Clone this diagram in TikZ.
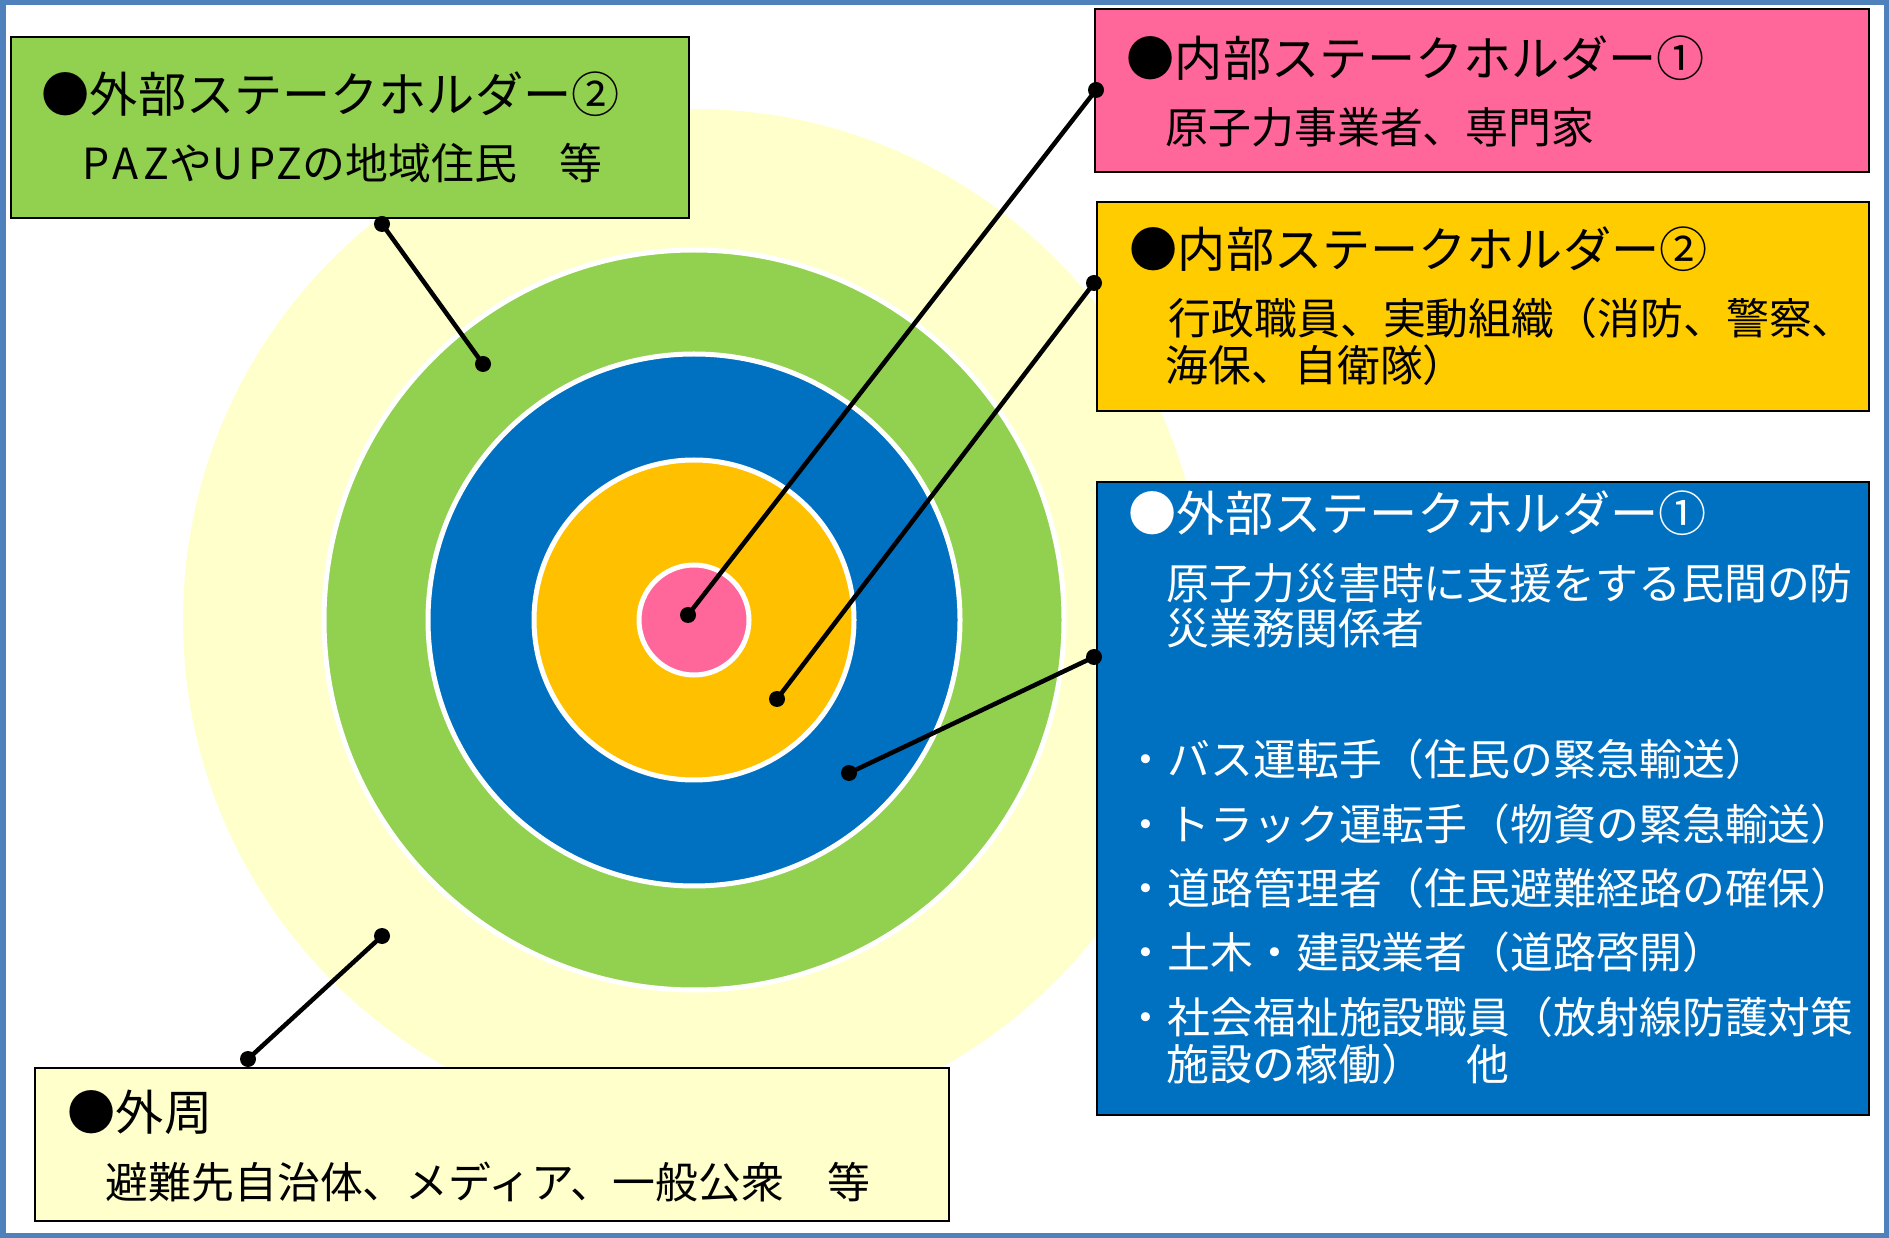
\documentclass[tikz,border=0pt]{standalone}
\usepackage{fontspec}
\setmainfont{Noto Sans CJK JP}

\definecolor{paleyel}{HTML}{FFFFCC}
\definecolor{ringgreen}{HTML}{92D050}
\definecolor{ringblue}{HTML}{0070C0}
\definecolor{ringorange}{HTML}{FFC000}
\definecolor{boxorange}{HTML}{FFCC00}
\definecolor{ringpink}{HTML}{FF6699}
\definecolor{framec}{HTML}{4F81BD}

\tikzset{
  ring/.style={draw=white, line width=0.05cm},
  sbox/.style={draw=black, line width=0.6pt, rectangle, inner sep=0pt, anchor=north west},
  ttl/.style={anchor=west, inner sep=0pt, font=\fontsize{13.7pt}{16pt}\selectfont},
  txt/.style={anchor=west, inner sep=0pt, font=\fontsize{12.2pt}{14pt}\selectfont},
  link/.style={line width=0.045cm},
}

\begin{document}
\begin{tikzpicture}[x=0.1mm, y=-0.1mm]
    \useasboundingbox (0,0) rectangle (1889,1238);

    % Marco exterior
    \draw[framec, line width=0.05cm] (3,3) rectangle (1886,1235);

    % Circulos concentricos
    \coordinate (c) at (694,620);
    \fill[paleyel] (c) circle (5.11cm);
    \filldraw[ring, fill=ringgreen] (c) circle (3.70cm);
    \filldraw[ring, fill=ringblue] (c) circle (2.66cm);
    \filldraw[ring, fill=ringorange] (c) circle (1.60cm);
    \filldraw[ring, fill=ringpink] (c) circle (0.55cm);

    % Cajas
    \node[sbox, fill=ringpink, minimum width=7.74cm, minimum height=1.63cm] (in1) at (1094,8) {};
    \node[sbox, fill=boxorange, minimum width=7.72cm, minimum height=2.09cm] (in2) at (1096,201) {};
    \node[sbox, fill=ringblue, minimum width=7.72cm, minimum height=6.33cm] (ex1) at (1096,481) {};
    \node[sbox, fill=ringgreen, minimum width=6.78cm, minimum height=1.81cm] (ex2) at (10,36) {};
    \node[sbox, fill=paleyel, minimum width=9.14cm, minimum height=1.53cm] (out) at (34,1067) {};

    % Textos
    \node[ttl] (in1t) at (1126,58) {●内部ステークホルダー①};
    \node[txt] (in1b) at (1165,127) {原子力事業者、専門家};

    \node[ttl] (in2t) at (1129,249) {●内部ステークホルダー②};
    \node[txt] (in2b) at (1168,318) {行政職員、実動組織（消防、警察、};
    \node[txt] (in2c) at (1165,365) {海保、自衛隊）};

    \node[ttl, white] (ex1t) at (1128,513) {●外部ステークホルダー①};
    \node[txt, white] (ex1b) at (1166,583) {原子力災害時に支援をする民間の防};
    \node[txt, white] (ex1c) at (1166,628) {災業務関係者};
    \foreach \y/\t in {759/{・バス運転手（住民の緊急輸送）},
                       824/{・トラック運転手（物資の緊急輸送）},
                       888/{・道路管理者（住民避難経路の確保）},
                       952/{・土木・建設業者（道路啓開）},
                       1017/{・社会福祉施設職員（放射線防護対策}}
      \node[txt, white] (ex1i\y) at (1124,\y) {\t};
    \node[txt, white] (ex1d) at (1166,1064) {施設の稼働）　他};

    \node[ttl] (ex2t) at (41,94) {●外部ステークホルダー②};
    \node[txt] (ex2b) at (82,163) {{\addfontfeature{LetterSpace=12}PAZ}や{\addfontfeature{LetterSpace=12}UPZ}の地域住民　等};

    \node[ttl] (outt) at (67,1112) {●外周};
    \node[txt] (outb) at (105,1182) {避難先自治体、メディア、一般公衆　等};

    % Puntos de las lineas
    \coordinate (in1dot) at (688,615);
    \coordinate (in1end) at (1096,90);
    \coordinate (in2dot) at (777,699);
    \coordinate (in2end) at (1094,283);
    \coordinate (ex1dot) at (849,773);
    \coordinate (ex1end) at (1094,657);
    \coordinate (ex2dot) at (483,364);
    \coordinate (ex2end) at (382,224);
    \coordinate (outdot) at (382,936);
    \coordinate (outend) at (248,1059);

    % Lineas
    \draw[link] (in1dot) -- (in1end);
    \draw[link] (in2dot) -- (in2end);
    \draw[link] (ex1dot) -- (ex1end);
    \draw[link] (ex2dot) -- (ex2end);
    \draw[link] (outdot) -- (outend);
    \foreach \p in {in1dot,in1end,in2dot,in2end,ex1dot,ex1end,ex2dot,ex2end,outdot,outend}
      \fill (\p) circle (0.08cm);
\end{tikzpicture}
\end{document}
